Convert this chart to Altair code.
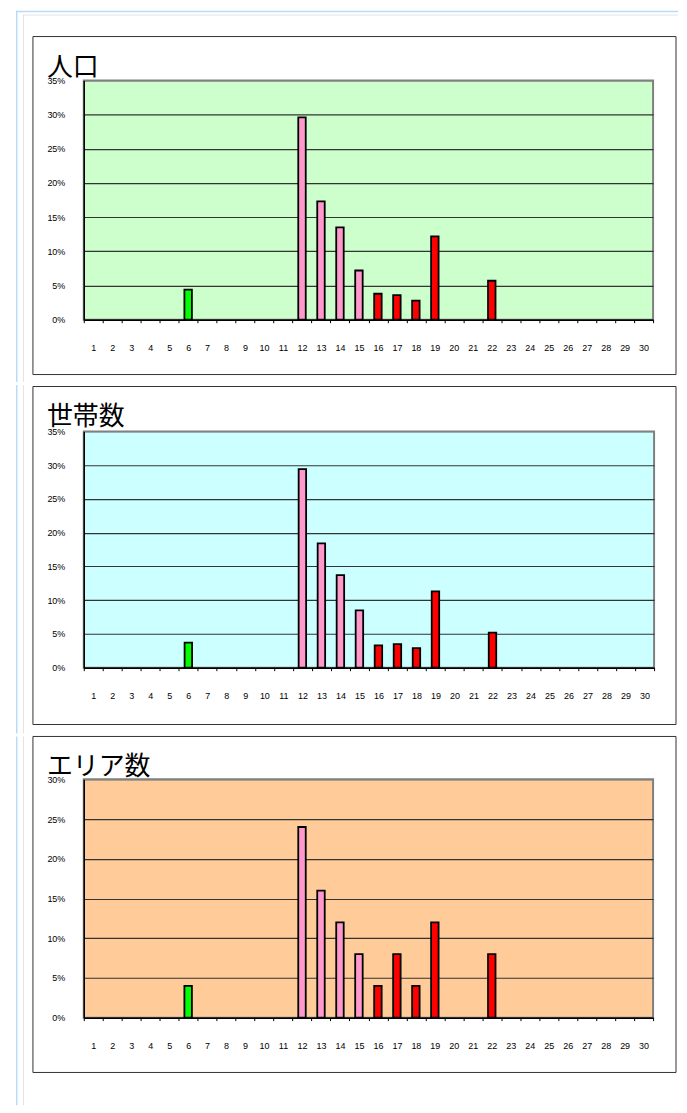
import altair as alt
import pandas as pd

# ---- data ----
categories = list(range(1, 31))
bar_categories = [6, 12, 13, 14, 15, 16, 17, 18, 19, 22]
bar_groups = ["A", "B", "B", "B", "B", "C", "C", "C", "C", "C"]
population = [4.4, 29.6, 17.3, 13.5, 7.2, 3.8, 3.6, 2.8, 12.2, 5.7]   # 人口 (%)
households = [3.7, 29.4, 18.4, 13.7, 8.5, 3.3, 3.5, 2.9, 11.3, 5.2]   # 世帯数 (%)
areas = [4, 24, 16, 12, 8, 4, 8, 4, 12, 8]                            # エリア数 (%)
titles = ["人口", "世帯数", "エリア数"]
y_max = [0.35, 0.35, 0.30]

group_domain = ["A", "B", "C"]
group_range = ["#00FF00", "#FF99CC", "#FF0000"]

LABEL_FONT = "'Liberation Sans Narrow', 'Arial Narrow', 'Liberation Sans', sans-serif"
one = pd.DataFrame({"k": [0]})
L = 83  # common plot-area left edge (page px)


def panel(values, title, ymax, P, W, H, T, B, frame_top, frame_bottom,
          title_y, bg, shift=0, first=False):
    df = pd.DataFrame({
        "cat": bar_categories,
        "grp": bar_groups,
        "share": [v / 100 for v in values],
    })
    n = int(round(ymax / 0.05))
    ticks = [round(i * 0.05, 2) for i in range(n + 1)]

    # band decorations are offset downward by 'shift' so the content
    # ends up 'shift' px higher on the page
    def rect(x1, x2, y1, y2, color):
        return alt.Chart(one).mark_rect(color=color).encode(
            x=alt.value(x1 - L), x2=alt.value(x2 - L),
            y=alt.value(y1 - P + shift), y2=alt.value(y2 - P + shift))

    deco = [
        rect(15, 16.5, T, B, "#B9DBFA"),
        rect(22, 23, max(T, 12), B, "#E3E3E3"),
    ]
    if first:
        deco += [
            rect(15, 679, 8, 9.5, "#B9DBFA"),
            rect(22, 679, 12, 13, "#E3E3E3"),
        ]

    frame = alt.Chart(one).mark_rect(
        fillOpacity=0, stroke="#333333", strokeWidth=1
    ).encode(
        x=alt.value(32 - L), x2=alt.value(677 - L),
        y=alt.value(frame_top - P), y2=alt.value(frame_bottom - P))

    head = alt.Chart(one).mark_text(
        align="left", baseline="middle", fontSize=26,
        font="'Noto Sans CJK JP', sans-serif", color="black"
    ).encode(x=alt.value(46 - L), y=alt.value(title_y - P), text=alt.value(title))

    bars = alt.Chart(df).mark_bar(
        size=7.5, stroke="black", strokeWidth=1.8
    ).encode(
        x=alt.X("cat:O",
                scale=alt.Scale(domain=categories, paddingInner=0, paddingOuter=0),
                axis=alt.Axis(title=None, labelAngle=0, labelFont=LABEL_FONT,
                              labelFontSize=9, labelColor="black",
                              labelPadding=25, labelBaseline="middle",
                              tickBand="extent", tickSize=3, tickColor="black",
                              domainColor="black", domainWidth=1.5, grid=False)),
        y=alt.Y("share:Q",
                scale=alt.Scale(domain=[0, ymax], nice=False),
                axis=alt.Axis(title=None, values=ticks, format=".0%",
                              labelFont=LABEL_FONT, labelFontSize=9,
                              labelColor="black", labelPadding=19,
                              ticks=False, tickSize=0,
                              domainColor="black", domainWidth=1.5,
                              gridColor=alt.condition(f"datum.value >= {ymax - 0.001}",
                                                      alt.value("#808080"),
                                                      alt.value("#333333")),
                              gridWidth=1.2)),
        color=alt.Color("grp:N",
                        scale=alt.Scale(domain=group_domain, range=group_range),
                        legend=None),
    )

    return alt.layer(*deco, frame, bars, head).properties(
        width=W, height=H,
        view=alt.ViewBackground(fill=bg, stroke="#808080", strokeWidth=2),
    )


p1 = panel(population, titles[0], y_max[0], P=80, W=571, H=240,
           T=8, B=380.5, frame_top=36, frame_bottom=375, title_y=68,
           bg="#CCFFCC", shift=2, first=True)
p2 = panel(households, titles[1], y_max[1], P=431, W=572, H=237,
           T=380.5, B=730, frame_top=386, frame_bottom=725, title_y=417,
           bg="#CCFFFF", shift=4)
p3 = panel(areas, titles[2], y_max[2], P=778, W=571, H=239,
           T=730, B=1100, frame_top=735, frame_bottom=1072, title_y=766,
           bg="#FFCC99", shift=5)

chart = alt.vconcat(p1, p2, p3, spacing=0).properties(
    padding={"left": 7, "top": 0, "right": 0, "bottom": 0},
    background="white",
)

chart.save("out.html", embed_options={"renderer": "svg", "actions": False})
